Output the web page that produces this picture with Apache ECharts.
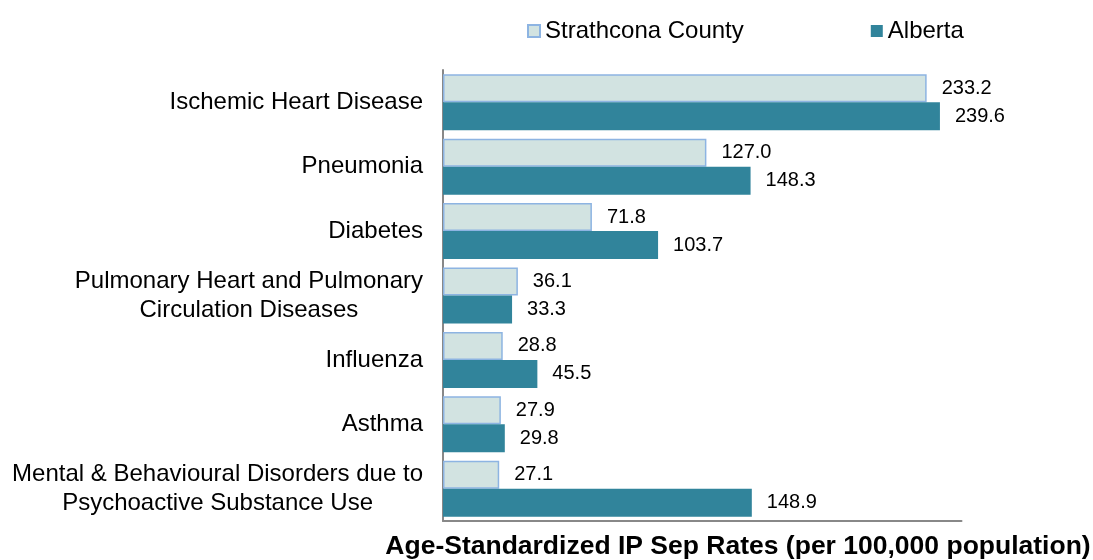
<!DOCTYPE html>
<html>
<head>
<meta charset="utf-8">
<script src="https://cdn.jsdelivr.net/npm/echarts@6/dist/echarts.min.js"></script>
<style>
  html, body { margin: 0; padding: 0; background: #fff; }
  #chart { width: 1093px; height: 560px; }
</style>
</head>
<body>
<div id="chart"></div>
<script>
// data, top to bottom
var categories = [
    'Ischemic Heart Disease',
    'Pneumonia',
    'Diabetes',
    'Pulmonary Heart and Pulmonary\nCirculation Diseases',
    'Influenza',
    'Asthma',
    'Mental & Behavioural Disorders due to\nPsychoactive Substance Use'
];
var strathcona = [233.2, 127.0, 71.8, 36.1, 28.8, 27.9, 27.1];
var alberta = [239.6, 148.3, 103.7, 33.3, 45.5, 29.8, 148.9];
var seriesNames = ['Strathcona County', 'Alberta'];
var axisTitle = 'Age-Standardized IP Sep Rates (per 100,000 population)';

var font = '"Liberation Sans", Arial, sans-serif';
var myChart = echarts.init(document.getElementById('chart'));

function valueLabel() {
    return {
        show: true,
        position: 'right',
        distance: 15,
        fontSize: 20,
        color: '#000',
        fontFamily: font,
        formatter: function (p) { return p.value.toFixed(1); }
    };
}

myChart.setOption({
    animation: false,
    textStyle: {fontFamily: font},
    legend: {
        left: 522,
        top: 14,
        itemWidth: 12,
        itemHeight: 12,
        itemGap: 127,
        icon: 'rect',
        textStyle: {fontSize: 24, color: '#000', fontFamily: font},
        data: seriesNames
    },
    grid: {
        left: 443,
        top: 70,
        width: 518.5,
        height: 451
    },
    xAxis: {
        type: 'value',
        min: 0,
        max: 250,
        axisLine: {show: true, lineStyle: {color: '#888', width: 2}},
        axisTick: {show: false},
        axisLabel: {show: false},
        splitLine: {show: false}
    },
    yAxis: {
        type: 'category',
        inverse: true,
        data: categories,
        axisLine: {show: true, onZero: false, lineStyle: {color: '#888', width: 2}},
        axisTick: {show: false},
        axisLabel: {
            margin: 20,
            align: 'right',
            // lines centred within the block, block right-aligned
            formatter: function (v) {
                return v.split('\n').map(function (s) { return '{c|' + s + '}'; }).join('\n');
            },
            rich: {
                c: {align: 'center', fontSize: 24, lineHeight: 29, color: '#000', fontFamily: font}
            }
        }
    },
    graphic: [{
        type: 'text',
        x: 738,
        y: 547,
        style: {
            text: axisTitle,
            fontSize: 26.5,
            fontWeight: 'bold',
            fontFamily: font,
            fill: '#000',
            align: 'center',
            verticalAlign: 'middle'
        }
    }],
    series: [
        {
            name: seriesNames[0],
            type: 'bar',
            barWidth: 28,
            barGap: '0%',
            itemStyle: {color: '#d2e3e1', borderColor: '#8db4e2', borderWidth: 1.5},
            label: valueLabel(),
            data: strathcona
        },
        {
            name: seriesNames[1],
            type: 'bar',
            barWidth: 28,
            itemStyle: {color: '#31849b'},
            label: valueLabel(),
            data: alberta
        }
    ]
});
</script>
</body>
</html>
